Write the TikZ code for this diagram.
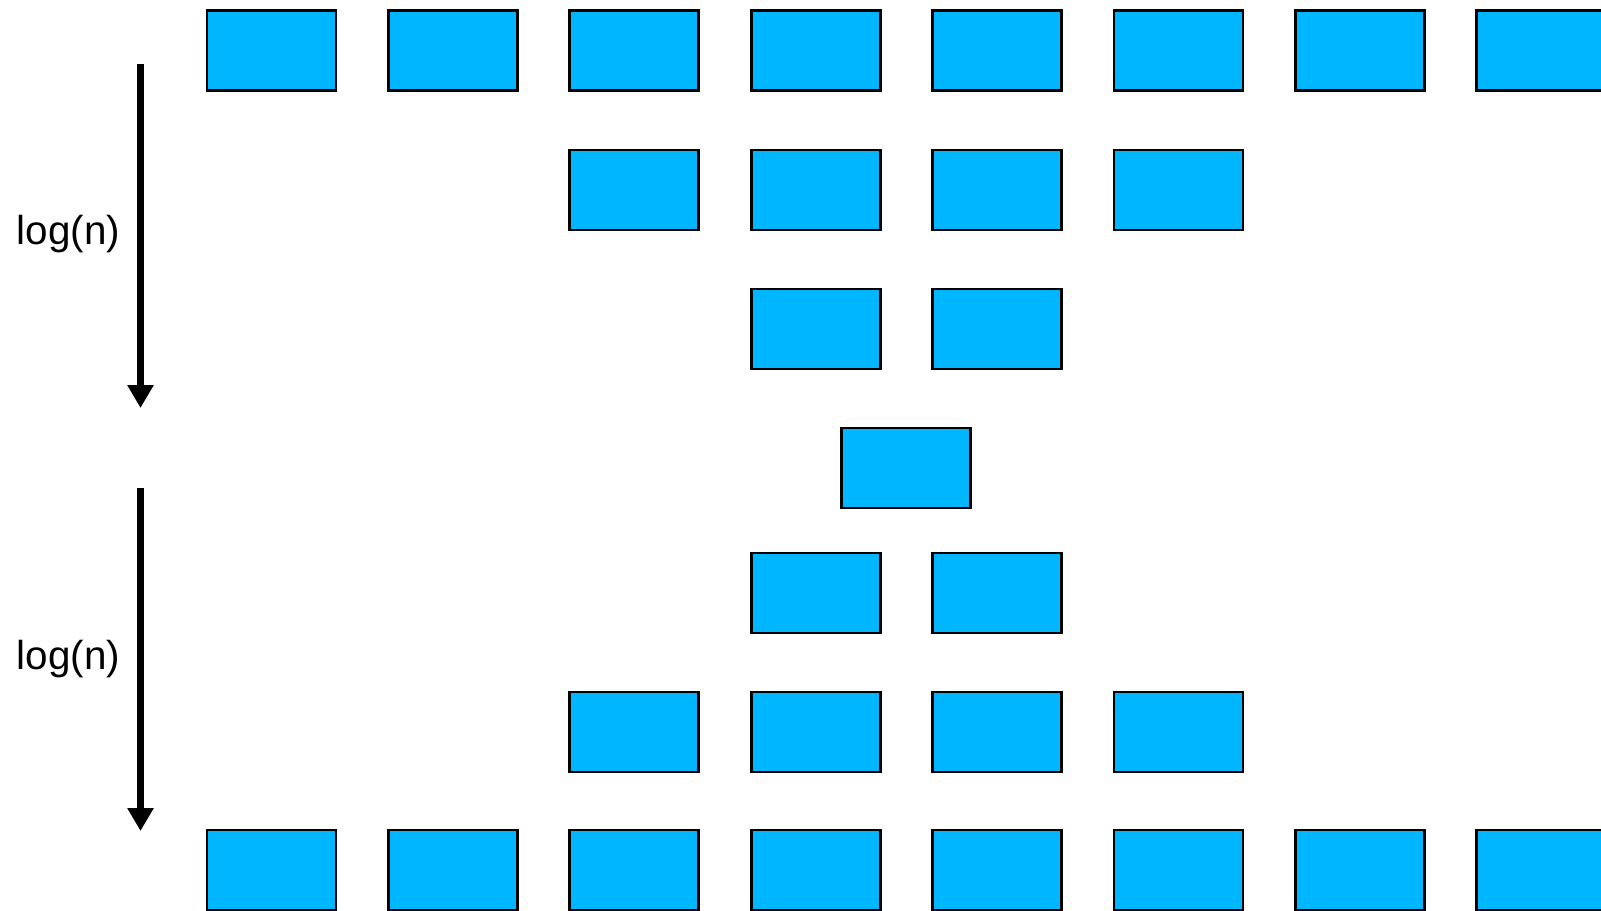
\documentclass[tikz,border=0pt]{standalone}
\usepackage{fontspec}
\setmainfont{Liberation Sans}
\usetikzlibrary{arrows.meta}
\definecolor{cellblue}{RGB}{0,183,255}

\begin{document}
\begin{tikzpicture}[
  cell/.style={draw,line width=1.6pt,fill=cellblue,minimum width=2.58cm,minimum height=1.6cm,inner sep=0pt},
  lvl/.style={line width=4.5pt,-{Triangle[width=0.5cm,length=0.46cm]}},
  lbl/.style={font=\fontsize{23}{27}\selectfont,anchor=base}]
\useasboundingbox (0,0) rectangle (32.02,18.2);

% Top row: all blocks
\foreach \i in {1,...,8}
  \node[cell] (a\i) at ({5.43+3.628*(\i-1)},17.19) {};

% Halving down
\foreach \i in {3,...,6}
  \node[cell] (b\i) at ({5.43+3.628*(\i-1)},14.4) {};
\foreach \i in {4,5}
  \node[cell] (c\i) at ({5.43+3.628*(\i-1)},11.62) {};

% Middle block
\node[cell] (mid) at (18.12,8.84) {};

% Doubling back up
\foreach \i in {4,5}
  \node[cell] (d\i) at ({5.43+3.628*(\i-1)},6.34) {};
\foreach \i in {3,...,6}
  \node[cell] (e\i) at ({5.43+3.628*(\i-1)},3.56) {};

% Bottom row: all blocks
\foreach \i in {1,...,8}
  \node[cell] (f\i) at ({5.43+3.628*(\i-1)},0.8) {};

% Left arrows
\coordinate (downtop) at (2.81,16.92);
\coordinate (downbot) at (2.81,10.04);
\coordinate (uptop) at (2.81,8.44);
\coordinate (upbot) at (2.81,1.58);
\draw[lvl] (downtop) -- (downbot);
\draw[lvl] (uptop) -- (upbot);
\node[lbl] (logdown) at (1.37,13.3) {log(n)};
\node[lbl] (logup) at (1.37,4.82) {log(n)};
\end{tikzpicture}
\end{document}
